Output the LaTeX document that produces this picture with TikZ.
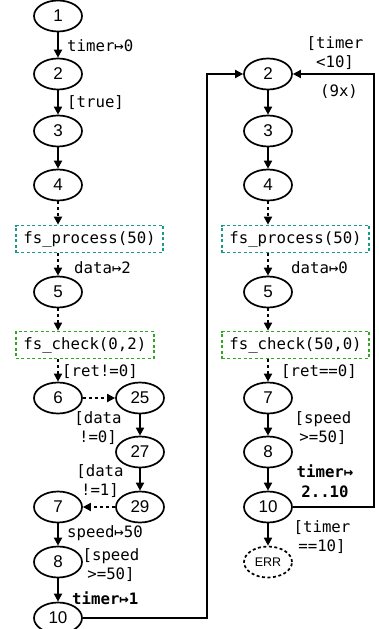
\documentclass[tikz,border=0pt]{standalone}
\usepackage{fontspec}
\setmainfont{Liberation Sans}
\newfontfamily\monof{DejaVu Sans Mono}
\usetikzlibrary{shapes.geometric,arrows.meta}
\definecolor{tealbox}{RGB}{26,155,135}
\definecolor{greenbox}{RGB}{50,165,35}
\begin{document}
\begin{tikzpicture}[x=1pt,y=-1pt,
  st/.style={ellipse,draw,line width=1.7pt,minimum width=48pt,minimum height=31pt,inner sep=0pt,font=\fontsize{17}{19}\selectfont},
  fb/.style={draw,line width=1.7pt,dash pattern=on 3pt off 2.5pt,inner xsep=7.5pt,inner ysep=0pt,minimum height=27pt,font=\monof\fontsize{15.7}{19}\selectfont},
  arr/.style={line width=1.7pt,-{Triangle[length=8pt,width=8pt]}},
  darr/.style={arr,dash pattern=on 3pt off 3pt},
  lbl/.style={font=\monof\fontsize{15.7}{19.5}\selectfont,inner sep=0pt,align=center}]
\useasboundingbox (0,0) rectangle (379,629);
% left column
\node[st] (a1) at (58,16) {1};
\node[st] (a2) at (58,74) {2};
\node[st] (a3) at (58,131) {3};
\node[st] (a4) at (58,185) {4};
\node[fb,draw=tealbox,anchor=west] (afp) at (15,239) {fs\_process(50)};
\node[st] (a5) at (58,292) {5};
\node[fb,draw=greenbox,anchor=west] (afc) at (15,345) {fs\_check(0,2)};
\node[st] (a6) at (58,398) {6};
\node[st] (a25) at (140,398) {25};
\node[st] (a27) at (140,452) {27};
\node[st] (a29) at (140,507) {29};
\node[st] (a7) at (58,507) {7};
\node[st] (a8) at (58,562) {8};
\node[st] (a10) at (58,618) {10};
% right column
\node[st] (b2) at (268,74) {2};
\node[st] (b3) at (268,131) {3};
\node[st] (b4) at (268,185) {4};
\node[fb,draw=tealbox,anchor=west] (bfp) at (221,239) {fs\_process(50)};
\node[st] (b5) at (268,292) {5};
\node[fb,draw=greenbox,anchor=west] (bfc) at (221,345) {fs\_check(50,0)};
\node[st] (b7) at (268,398) {7};
\node[st] (b8) at (268,452) {8};
\node[st] (b10) at (268,507) {10};
\node[st,dash pattern=on 3pt off 2.5pt,font=\fontsize{12.5}{14}\selectfont] (berr) at (268,562) {ERR};
% left edges
\draw[arr] (a1) -- (a2);
\draw[arr] (a2) -- (a3);
\draw[arr] (a3) -- (a4);
\draw[darr] (a4) -- (a4 |- afp.north);
\draw[darr] (a4 |- afp.south) -- (a5);
\draw[darr] (a5) -- (a5 |- afc.north);
\draw[darr] (a5 |- afc.south) -- (a6);
\draw[darr] (a6) -- (a25);
\draw[arr] (a25) -- (a27);
\draw[arr] (a27) -- (a29);
\draw[darr] (a29) -- (a7);
\draw[arr] (a7) -- (a8);
\draw[arr] (a8) -- (a10);
% right edges
\draw[arr] (b2) -- (b3);
\draw[arr] (b3) -- (b4);
\draw[darr] (b4) -- (b4 |- bfp.north);
\draw[darr] (b4 |- bfp.south) -- (b5);
\draw[darr] (b5) -- (b5 |- bfc.north);
\draw[darr] (b5 |- bfc.south) -- (b7);
\draw[arr] (b7) -- (b8);
\draw[arr] (b8) -- (b10);
\draw[arr] (b10) -- (berr);
% loops
\coordinate (lc) at (207,0);
\coordinate (rc) at (374,0);
\draw[arr] (a10.east) -- (a10.east -| lc) |- (b2.west);
\draw[arr] (b10.east) -- (b10.east -| rc) |- (b2.east);
% labels left
\node[lbl,anchor=west] (l1) at (67,46) {timer↦0};
\node[lbl,anchor=west] (l2) at (67,103) {[true]};
\node[lbl,anchor=west] (l3) at (74,268) {data↦2};
\node[lbl,anchor=west] (l4) at (62,372) {[ret!=0]};
\node[lbl] (l5) at (98,428) {[data\\!=0]};
\node[lbl] (l6) at (100,481) {[data\\!=1]};
\node[lbl,anchor=west] (l7) at (67,533) {speed↦50};
\node[lbl] (l8) at (111,565) {[speed\\>=50]};
\node[lbl,anchor=west,font=\monof\bfseries\fontsize{15.7}{19.5}\selectfont] (l9) at (72,598) {timer↦1};
% labels right
\node[lbl] (r1) at (335,53) {[timer\\<10]};
\node[lbl] (r2) at (339,92) {(9x)};
\node[lbl,anchor=west] (r3) at (291,268) {data↦0};
\node[lbl,anchor=west] (r4) at (281,372) {[ret==0]};
\node[lbl] (r5) at (323,428) {[speed\\>=50]};
\node[lbl,font=\monof\bfseries\fontsize{15.7}{19.5}\selectfont] (r6) at (325,481) {timer↦\\2..10};
\node[lbl] (r7) at (322,537) {[timer\\==10]};
\end{tikzpicture}
\end{document}
